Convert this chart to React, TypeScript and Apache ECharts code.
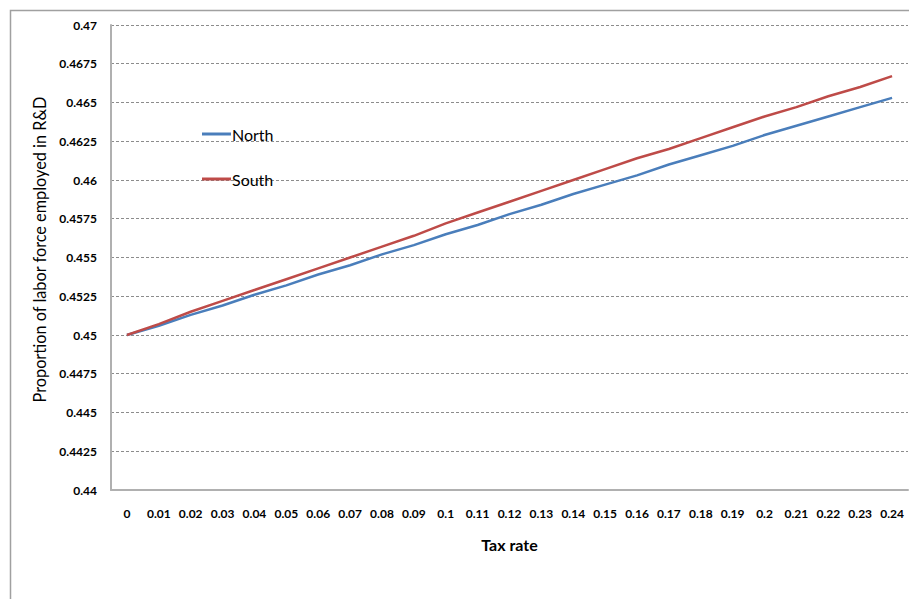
import React, { useEffect, useRef } from "react";
import * as echarts from "echarts";

const categories = [
  "0", "0.01", "0.02", "0.03", "0.04", "0.05", "0.06", "0.07", "0.08", "0.09",
  "0.1", "0.11", "0.12", "0.13", "0.14", "0.15", "0.16", "0.17", "0.18", "0.19",
  "0.2", "0.21", "0.22", "0.23", "0.24",
];

const northValues = [
  0.45, 0.4506, 0.4513, 0.4519, 0.4526, 0.4532, 0.4539, 0.4545, 0.4552, 0.4558,
  0.4565, 0.4571, 0.4578, 0.4584, 0.4591, 0.4597, 0.4603, 0.461, 0.4616, 0.4622,
  0.4629, 0.4635, 0.4641, 0.4647, 0.4653,
];

const southValues = [
  0.45, 0.4507, 0.4515, 0.4522, 0.4529, 0.4536, 0.4543, 0.455, 0.4557, 0.4564,
  0.4572, 0.4579, 0.4586, 0.4593, 0.46, 0.4607, 0.4614, 0.462, 0.4627, 0.4634,
  0.4641, 0.4647, 0.4654, 0.466, 0.4667,
];

const yMin = 0.44;
const yMax = 0.47;
const yStep = 0.0025;

const FONT = "Lato, 'Open Sans', sans-serif";

export default function App() {
  const ref = useRef<HTMLDivElement>(null);

  useEffect(() => {
    if (!ref.current) return;
    const chart = echarts.init(ref.current, undefined, { renderer: "svg" });
    chart.setOption({
      animation: false,
      backgroundColor: "#ffffff",
      textStyle: { fontFamily: FONT },
      graphic: [
        {
          type: "rect",
          shape: { x: 10.5, y: 10.5, width: 1000, height: 1000 },
          style: { fill: "none", stroke: "#a0a0a0", lineWidth: 1.5 },
          silent: true,
        },
      ],
      grid: { left: 111, right: 1, top: 25, bottom: 109 },
      legend: {
        orient: "vertical",
        left: 197,
        top: 121,
        itemGap: 29,
        itemWidth: 29,
        itemHeight: 3,
        icon: "rect",
        textStyle: { fontFamily: FONT, fontSize: 16, color: "#000", padding: [0, 0, 0, -4] },
        data: ["North", "South"],
      },
      xAxis: {
        type: "category",
        data: categories,
        boundaryGap: true,
        name: "Tax rate",
        nameLocation: "middle",
        nameGap: 46,
        nameTextStyle: { fontFamily: FONT, fontSize: 16, fontWeight: "bold", color: "#000" },
        axisLine: { lineStyle: { color: "#b0b0b0", width: 2 } },
        axisTick: { show: false },
        axisLabel: {
          interval: 0,
          margin: 17,
          fontFamily: FONT,
          fontSize: 12,
          fontWeight: "bold",
          color: "#000",
        },
        splitLine: { show: false },
      },
      yAxis: {
        type: "value",
        min: yMin,
        max: yMax,
        interval: yStep,
        name: "Proportion of labor force employed in R&D",
        nameLocation: "middle",
        nameGap: 64,
        nameTextStyle: {
          fontFamily: FONT,
          fontSize: 16.3,
          color: "#000",
          padding: [0, 0, 0, 16],
        },
        axisLine: { show: true, lineStyle: { color: "#b0b0b0", width: 2 } },
        axisTick: { show: false },
        axisLabel: {
          margin: 14,
          fontFamily: FONT,
          fontSize: 12,
          fontWeight: "bold",
          color: "#000",
          formatter: (v: number) => String(Number(v.toFixed(4))),
        },
        splitLine: { lineStyle: { color: "#8c8c8c", type: [3, 2], width: 1 } },
      },
      series: [
        {
          name: "North",
          type: "line",
          data: northValues,
          symbol: "none",
          lineStyle: { color: "#4a7ebb", width: 2.5 },
          itemStyle: { color: "#4a7ebb" },
        },
        {
          name: "South",
          type: "line",
          data: southValues,
          symbol: "none",
          lineStyle: { color: "#be4b48", width: 2.5 },
          itemStyle: { color: "#be4b48" },
        },
      ],
    });
    return () => chart.dispose();
  }, []);

  return (
    <div
      ref={ref}
      style={{ position: "absolute", left: 0, top: 0, width: 909, height: 599 }}
    />
  );
}
